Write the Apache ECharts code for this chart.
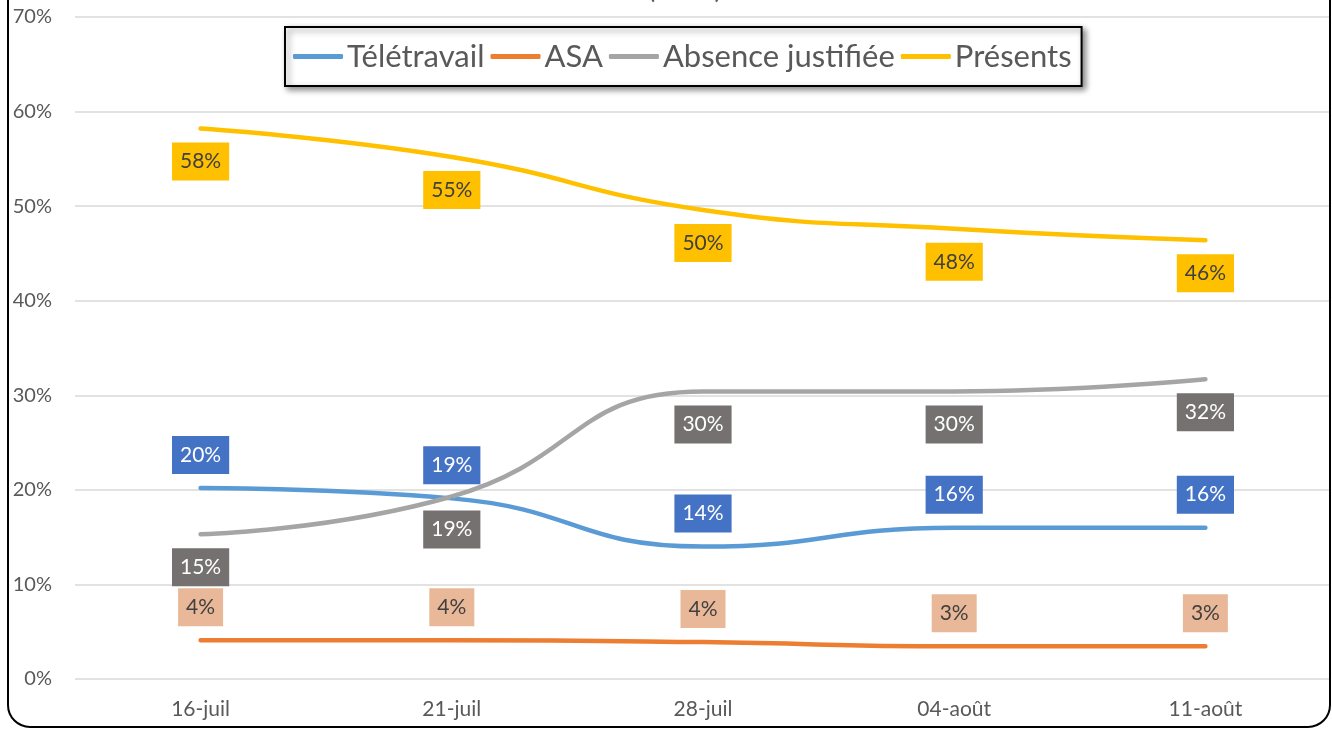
<!DOCTYPE html>
<html>
<head>
<meta charset="utf-8">
<script src="https://cdn.jsdelivr.net/npm/echarts@6/dist/echarts.min.js"></script>
<style>
  html, body { margin: 0; padding: 0; background: #fff; }
  #chart { width: 1332px; height: 729px; }
</style>
</head>
<body>
<div id="chart"></div>
<script>
// données
var dates = ["16-juil", "21-juil", "28-juil", "04-août", "11-août"];
var teletravail = [20.2, 19.1, 14.0, 16.0, 16.0];
var asa = [4.1, 4.1, 3.9, 3.45, 3.45];
var absence = [15.3, 19.3, 30.4, 30.4, 31.7];
var presents = [58.2, 55.2, 49.6, 47.6, 46.4];

var font = "Lato";

function serie(name, data, lineColor, boxColor, textColor, pos) {
  return {
    name: name,
    type: "line",
    data: data,
    smooth: 0.5,
    symbol: "circle",
    symbolSize: 2,
    itemStyle: { color: lineColor },
    lineStyle: { color: lineColor, width: 4.5, cap: "round" },
    label: {
      show: true,
      position: pos,
      distance: 13,
      formatter: function (p) {
        return Math.round(p.value) + "%";
      },
      backgroundColor: boxColor,
      color: textColor,
      fontFamily: font,
      fontSize: 21,
      lineHeight: 20,
      padding: [9, 8, 9, 8],
    },
    emphasis: { disabled: true },
  };
}

var myChart = echarts.init(document.getElementById("chart"), null, { renderer: "canvas" });
var option = {
  animation: false,
  title: {
    text: "Suivi du statut (en %)",
    left: 460,
    top: -30,
    textStyle: { color: "#595959", fontFamily: font, fontSize: 28, fontWeight: "normal" },
  },
  graphic: [
    {
      type: "rect",
      shape: { x: 8, y: -40, width: 1322, height: 767, r: 22 },
      style: { fill: "none", stroke: "#000", lineWidth: 2 },
      z: 100,
    },
  ],
  legend: {
    left: 285,
    top: 27,
    padding: [14, 10, 14, 8],
    itemGap: 6,
    itemWidth: 50,
    itemHeight: 5,
    icon: "roundRect",
    backgroundColor: "#fff",
    borderColor: "#000",
    borderWidth: 2,
    shadowColor: "rgba(0,0,0,0.45)",
    shadowBlur: 6,
    shadowOffsetX: 3,
    shadowOffsetY: 3,
    textStyle: { color: "#595959", fontFamily: font, fontSize: 31, padding: [0, 0, 0, -1] },
    data: ["Télétravail", "ASA", "Absence justifiée", "Présents"],
  },
  grid: { left: 75, right: 1, top: 17, bottom: 50 },
  xAxis: {
    type: "category",
    data: dates,
    boundaryGap: true,
    axisLine: { show: false },
    axisTick: { show: false },
    axisLabel: { color: "#595959", fontFamily: font, fontSize: 21, margin: 20 },
  },
  yAxis: {
    type: "value",
    min: 0,
    max: 70,
    interval: 10,
    axisLine: { show: false },
    axisTick: { show: false },
    splitLine: { lineStyle: { color: "#D9D9D9", width: 1.5 } },
    axisLabel: {
      color: "#595959",
      fontFamily: font,
      fontSize: 20,
      margin: 23,
      formatter: "{value}%",
    },
  },
  series: [
    serie("Télétravail", teletravail, "#5B9BD5", "#4472C4", "#fff", "top"),
    serie("ASA", asa, "#ED7D31", "#E9B898", "#404040", "top"),
    serie("Absence justifiée", absence, "#A5A5A5", "#767171", "#fff", "bottom"),
    serie("Présents", presents, "#FFC000", "#FFC000", "#404040", "bottom"),
  ],
};
myChart.setOption(option);
window.addEventListener("resize", myChart.resize);
</script>
</body>
</html>
